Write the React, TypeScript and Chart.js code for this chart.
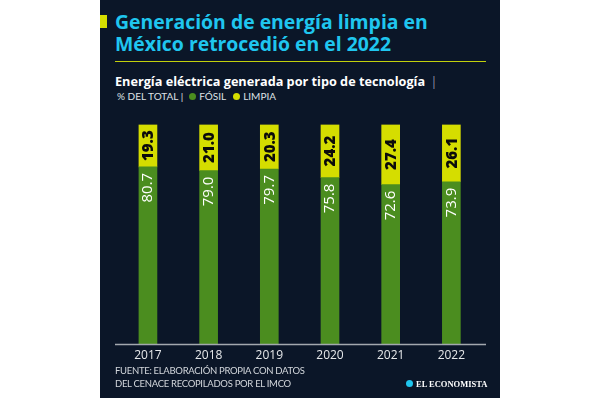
import React, { useEffect, useRef } from "react";
import { Chart, registerables } from "chart.js";

Chart.register(...registerables);

const years = ["2017", "2018", "2019", "2020", "2021", "2022"];
const fosil = [80.7, 79.0, 79.7, 75.8, 72.6, 73.9];
const limpia = [19.3, 21.0, 20.3, 24.2, 27.4, 26.1];
const seriesNames = ["FÓSIL", "LIMPIA"];
const titleLines = ["Generación de energía limpia en", "México retrocedió en el 2022"];
const subtitleText = "Energía eléctrica generada por tipo de tecnología";
const unitText = "% DEL TOTAL";
const sourceLines = ["FUENTE: ELABORACIÓN PROPIA CON DATOS", "DEL CENACE RECOPILADOS POR EL IMCO"];
const brandText = "EL ECONOMISTA";

const BG = "#0b1628";
const GREEN = "#4b8d1f";
const YELLOW = "#d5dd00";
const CYAN = "#1fc6ef";
const RULE = "#c2d00c";

const valueLabels = {
  id: "valueLabels",
  afterDatasetsDraw(chart: any) {
    const ctx = chart.ctx;
    chart.data.datasets.forEach((ds: any, di: number) => {
      const meta = chart.getDatasetMeta(di);
      meta.data.forEach((el: any, i: number) => {
        const v = ds.data[i];
        const txt = v.toFixed(1);
        ctx.save();
        if (di === 0) {
          ctx.translate(el.x, el.y + 6);
          ctx.rotate(-Math.PI / 2);
          ctx.font = "400 15px 'Open Sans'";
          ctx.fillStyle = "#ffffff";
          ctx.textAlign = "right";
          ctx.textBaseline = "middle";
          ctx.fillText(txt, 0, 0);
        } else {
          ctx.translate(el.x, (el.y + el.base) / 2);
          ctx.rotate(-Math.PI / 2);
          ctx.font = "800 15px 'Open Sans'";
          ctx.fillStyle = "#0b0b0b";
          ctx.textAlign = "center";
          ctx.textBaseline = "middle";
          ctx.fillText(txt, 0, 1);
        }
        ctx.restore();
      });
    });
  },
};

const axisLine = {
  id: "axisLine",
  afterDraw(chart: any) {
    const { ctx, chartArea } = chart;
    const y = chart.scales.y.getPixelForValue(0);
    ctx.save();
    ctx.strokeStyle = "#a3a8ae";
    ctx.lineWidth = 1.5;
    ctx.beginPath();
    ctx.moveTo(chartArea.left - 2.6, y + 0.5);
    ctx.lineTo(chartArea.right + 4.3, y + 0.5);
    ctx.stroke();
    ctx.restore();
  },
};

export default function App() {
  const ref = useRef<HTMLCanvasElement>(null);
  useEffect(() => {
    if (!ref.current) return;
    const chart = new Chart(ref.current, {
      type: "bar",
      data: {
        labels: years,
        datasets: [
          { label: seriesNames[0], data: fosil, backgroundColor: GREEN, barThickness: 18 },
          { label: seriesNames[1], data: limpia, backgroundColor: YELLOW, barThickness: 18 },
        ],
      },
      options: {
        animation: false,
        responsive: false,
        maintainAspectRatio: false,
        layout: { padding: { left: 17.6, right: 18.3, top: 24.5, bottom: 13.7 } },
        plugins: { legend: { display: false }, title: { display: false }, tooltip: { enabled: false } },
        scales: {
          x: {
            stacked: true,
            grid: { display: false, drawTicks: false },
            border: { display: false },
            ticks: { color: "#e6e8ea", font: { family: "'Open Sans'", size: 12 }, padding: 4 },
          },
          y: { stacked: true, display: false, min: 0, max: 100 },
        },
      },
      plugins: [valueLabels, axisLine],
    });
    return () => chart.destroy();
  }, []);

  const abs = (o: any): React.CSSProperties => ({ position: "absolute", ...o });

  return (
    <div style={abs({ left: 0, top: 0, width: 600, height: 400, background: "#ffffff", overflow: "hidden" })}>
      <div style={abs({ left: 100, top: 0, width: 400, height: 398, background: BG })} />
      <div style={abs({ left: 100, top: 15, width: 7, height: 13, background: YELLOW })} />
      <div
        style={abs({
          left: 115,
          top: 11,
          color: CYAN,
          fontFamily: "'Open Sans'",
          fontWeight: 700,
          fontSize: 19.4,
          lineHeight: "22px",
          whiteSpace: "nowrap",
        })}
      >
        {titleLines.map((t) => (
          <div key={t}>{t}</div>
        ))}
      </div>
      <div style={abs({ left: 115, top: 60.5, width: 371, height: 1.5, background: RULE })} />
      <div
        style={abs({
          left: 115,
          top: 71.5,
          color: "#ffffff",
          fontFamily: "'Open Sans'",
          fontWeight: 700,
          fontSize: 12.7,
          whiteSpace: "nowrap",
        })}
      >
        {subtitleText} <span style={{ fontWeight: 300, marginLeft: 2, color: "#cfd3d8" }}>|</span>
      </div>
      <div
        style={abs({
          left: 117,
          top: 90,
          color: "#dfe2e6",
          fontFamily: "Lato",
          fontWeight: 400,
          fontSize: 10,
          whiteSpace: "nowrap",
          display: "flex",
          alignItems: "center",
        })}
      >
        <span>{unitText} |</span>
        <span style={{ display: "inline-block", width: 7, height: 7, borderRadius: 4, background: GREEN, marginLeft: 6, marginRight: 3 }} />
        <span>{seriesNames[0]}</span>
        <span style={{ display: "inline-block", width: 7, height: 7, borderRadius: 4, background: YELLOW, marginLeft: 7, marginRight: 3 }} />
        <span>{seriesNames[1]}</span>
      </div>
      <canvas ref={ref} width={400} height={280} style={abs({ left: 100, top: 100, width: 400, height: 280 })} />
      <div
        style={abs({
          left: 115,
          top: 364,
          color: "#d3d7dc",
          fontFamily: "Lato",
          fontSize: 9.5,
          letterSpacing: -0.3,
          lineHeight: "13px",
          whiteSpace: "nowrap",
        })}
      >
        {sourceLines.map((t) => (
          <div key={t}>{t}</div>
        ))}
      </div>
      <div
        style={abs({
          left: 406,
          top: 378.5,
          color: "#ffffff",
          fontFamily: "'Liberation Serif'",
          fontWeight: 700,
          fontSize: 8.5,
          whiteSpace: "nowrap",
          display: "flex",
          alignItems: "center",
        })}
      >
        <span style={{ display: "inline-block", width: 7, height: 7, borderRadius: 4, background: CYAN, marginRight: 3 }} />
        <span>{brandText}</span>
      </div>
    </div>
  );
}
